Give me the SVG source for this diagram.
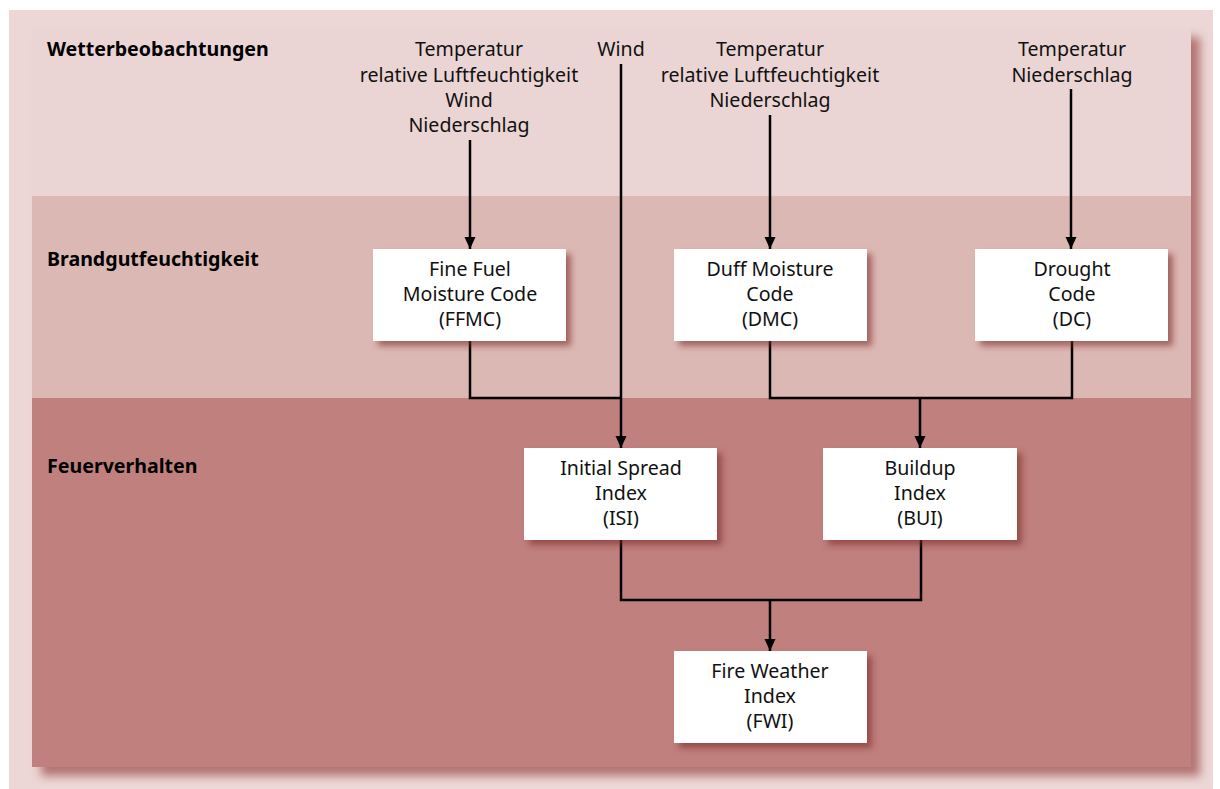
<svg xmlns="http://www.w3.org/2000/svg" width="1220" height="789" viewBox="0 0 1220 789">
<defs>
<filter id="panelShadow" x="-5%" y="-5%" width="115%" height="115%">
<feGaussianBlur in="SourceAlpha" stdDeviation="5"/>
<feOffset dx="9" dy="9" result="b"/>
<feFlood flood-color="#9a4a48" flood-opacity="0.7"/>
<feComposite in2="b" operator="in"/>
<feMerge><feMergeNode/><feMergeNode in="SourceGraphic"/></feMerge>
</filter>
<filter id="boxShadow" x="-10%" y="-10%" width="125%" height="130%">
<feGaussianBlur in="SourceAlpha" stdDeviation="3"/>
<feOffset dx="5" dy="5" result="b"/>
<feFlood flood-color="#7a2a28" flood-opacity="0.6"/>
<feComposite in2="b" operator="in"/>
<feMerge><feMergeNode/><feMergeNode in="SourceGraphic"/></feMerge>
</filter>
<marker id="arrow" markerWidth="12" markerHeight="12" refX="12" refY="5.5" orient="auto" markerUnits="userSpaceOnUse" viewBox="0 0 12 11">
<path d="M0,0 L12,5.5 L0,11 z" fill="#000"/>
</marker>
</defs>
<style>
.lbl{font-family:"Noto Sans","Open Sans",sans-serif;font-size:19.6px;fill:#111;text-anchor:middle}
.hdr{font-family:"Noto Sans","Open Sans",sans-serif;font-size:19.6px;font-weight:bold;fill:#000}
.box{fill:#fff;filter:url(#boxShadow)}
.conn{fill:none;stroke:#000;stroke-width:2.5}
</style>
<rect x="9" y="10" width="1204" height="779" fill="#ecd7d6"/>
<g filter="url(#panelShadow)">
<rect x="32" y="28" width="1159" height="168" fill="#ebd5d4"/>
<rect x="32" y="196" width="1159" height="202" fill="#dcb8b4"/>
<rect x="32" y="398" width="1159" height="369" fill="#c0807d"/>
</g>
<text class="hdr" x="47" y="56">Wetterbeobachtungen</text>
<text class="hdr" x="47" y="266">Brandgutfeuchtigkeit</text>
<text class="hdr" x="47" y="473">Feuerverhalten</text>
<g id="inputs">
<text class="lbl" x="469" y="56">Temperatur</text>
<text class="lbl" x="469" y="82">relative Luftfeuchtigkeit</text>
<text class="lbl" x="469" y="107">Wind</text>
<text class="lbl" x="469" y="132">Niederschlag</text>
<text class="lbl" x="621" y="56">Wind</text>
<text class="lbl" x="770" y="56">Temperatur</text>
<text class="lbl" x="770" y="82">relative Luftfeuchtigkeit</text>
<text class="lbl" x="770" y="107">Niederschlag</text>
<text class="lbl" x="1072" y="56">Temperatur</text>
<text class="lbl" x="1072" y="82">Niederschlag</text>
</g>
<g id="connectors">
<line class="conn" x1="470" y1="140" x2="470" y2="249" marker-end="url(#arrow)"/>
<line class="conn" x1="621" y1="64" x2="621" y2="448" marker-end="url(#arrow)"/>
<line class="conn" x1="770" y1="115" x2="770" y2="249" marker-end="url(#arrow)"/>
<line class="conn" x1="1071" y1="89" x2="1071" y2="249" marker-end="url(#arrow)"/>
<polyline class="conn" points="470,341 470,398 621,398"/>
<polyline class="conn" points="770,341 770,398 1072,398 1072,341"/>
<line class="conn" x1="920" y1="398" x2="920" y2="448" marker-end="url(#arrow)"/>
<polyline class="conn" points="621,540 621,600 921,600 921,540"/>
<line class="conn" x1="770" y1="600" x2="770" y2="651" marker-end="url(#arrow)"/>
</g>
<g id="ffmc">
<rect class="box" x="373" y="249" width="193" height="92"/>
<text class="lbl" x="470" y="276">Fine Fuel</text>
<text class="lbl" x="470" y="301">Moisture Code</text>
<text class="lbl" x="470" y="326">(FFMC)</text>
</g>
<g id="dmc">
<rect class="box" x="674" y="249" width="193" height="92"/>
<text class="lbl" x="770" y="276">Duff Moisture</text>
<text class="lbl" x="770" y="301">Code</text>
<text class="lbl" x="770" y="326">(DMC)</text>
</g>
<g id="dc">
<rect class="box" x="975" y="249" width="193" height="92"/>
<text class="lbl" x="1072" y="276">Drought</text>
<text class="lbl" x="1072" y="301">Code</text>
<text class="lbl" x="1072" y="326">(DC)</text>
</g>
<g id="isi">
<rect class="box" x="524" y="448" width="193" height="92"/>
<text class="lbl" x="621" y="475">Initial Spread</text>
<text class="lbl" x="621" y="500">Index</text>
<text class="lbl" x="621" y="525">(ISI)</text>
</g>
<g id="bui">
<rect class="box" x="823" y="448" width="194" height="92"/>
<text class="lbl" x="920" y="475">Buildup</text>
<text class="lbl" x="920" y="500">Index</text>
<text class="lbl" x="920" y="525">(BUI)</text>
</g>
<g id="fwi">
<rect class="box" x="674" y="651" width="193" height="92"/>
<text class="lbl" x="770" y="678">Fire Weather</text>
<text class="lbl" x="770" y="703">Index</text>
<text class="lbl" x="770" y="728">(FWI)</text>
</g>
</svg>
